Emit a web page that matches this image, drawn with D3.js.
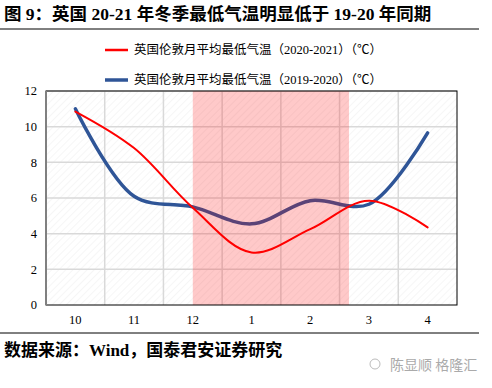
<!DOCTYPE html>
<html>
<head>
<meta charset="utf-8">
<script src="https://cdn.jsdelivr.net/npm/d3@7"></script>
<style>
  body { margin: 0; background: #fff; }
  svg { display: block; }
</style>
</head>
<body>
<svg id="chart"></svg>
<script>
// months on the x axis
const months = ["10", "11", "12", "1", "2", "3", "4"];
// London monthly average min temperature (C)
const temp2021 = [10.85, 8.8, 5.45, 2.95, 4.25, 5.85, 4.35];
const temp1920 = [11.0, 6.1, 5.5, 4.55, 5.85, 5.65, 9.65];
const yTicks = [0, 2, 4, 6, 8, 10, 12];
const seriesNames = ["英国伦敦月平均最低气温（2020-2021）（℃）", "英国伦敦月平均最低气温（2019-2020）（℃）"];
const shadeFrom = "12", shadeTo = "2";

const W = 492, H = 388;
const margin = { top: 91, left: 46, right: 35, bottom: 83 };
const width = W - margin.left - margin.right;
const height = H - margin.top - margin.bottom;

const svg = d3.select("#chart").attr("width", W).attr("height", H);

const defs = svg.append("defs");
const pat = defs.append("pattern")
    .attr("id", "hatch")
    .attr("patternUnits", "userSpaceOnUse")
    .attr("width", 5).attr("height", 5)
    .attr("patternTransform", "rotate(45)");
pat.append("line")
    .attr("x1", 0).attr("y1", 0).attr("x2", 0).attr("y2", 5)
    .attr("stroke", "#f0f0f0").attr("stroke-width", 1.2);

// title
svg.append("text")
    .attr("x", 4).attr("y", 20)
    .style("font-family", "'Liberation Serif', 'Noto Sans CJK SC', serif")
    .style("font-size", "17.5px")
    .style("font-weight", "bold")
    .text("图 9：英国 20-21 年冬季最低气温明显低于 19-20 年同期");

svg.append("line").attr("x1", 0).attr("x2", 479).attr("y1", 29).attr("y2", 29)
    .attr("stroke", "#000").attr("stroke-width", 1);
svg.append("line").attr("x1", 0).attr("x2", 479).attr("y1", 333).attr("y2", 333)
    .attr("stroke", "#000").attr("stroke-width", 1);

svg.append("text")
    .attr("x", 4).attr("y", 356)
    .style("font-family", "'Liberation Serif', 'Noto Sans CJK SC', serif")
    .style("font-size", "17px")
    .style("font-weight", "bold")
    .text("数据来源：Wind，国泰君安证券研究");

// watermark
svg.append("circle").attr("cx", 375).attr("cy", 364).attr("r", 5)
    .attr("fill", "none").attr("stroke", "#bbb").attr("stroke-width", 1);
svg.append("text")
    .attr("x", 390).attr("y", 370)
    .style("font-family", "'Noto Sans CJK SC', sans-serif")
    .style("font-size", "14px")
    .attr("fill", "#aaa")
    .text("陈显顺 格隆汇");

const g = svg.append("g").attr("transform", `translate(${margin.left},${margin.top})`);

const x = d3.scaleBand().domain(months).range([0, width]);
const y = d3.scaleLinear().domain([0, 12]).range([height, 0]);
const cx = d => x(d) + x.bandwidth() / 2;

g.append("rect").attr("width", width).attr("height", height).attr("fill", "url(#hatch)");

// grid
g.selectAll(".hgrid").data(yTicks.slice(1)).join("line")
    .attr("x1", 0).attr("x2", width)
    .attr("y1", d => y(d)).attr("y2", d => y(d))
    .attr("stroke", "#d9d9d9").attr("stroke-width", 1.5);
g.selectAll(".vgrid").data(months.slice(1)).join("line")
    .attr("x1", d => x(d)).attr("x2", d => x(d))
    .attr("y1", 0).attr("y2", height)
    .attr("stroke", "#d9d9d9").attr("stroke-width", 1.5);

const line = d3.line()
    .x((d, i) => cx(months[i]))
    .y(d => y(d))
    .curve(d3.curveCatmullRom.alpha(0.5));

g.append("path").datum(temp1920)
    .attr("d", line).attr("fill", "none")
    .attr("stroke", "#2f5597").attr("stroke-width", 3.5)
    .attr("stroke-linecap", "round");
g.append("path").datum(temp2021)
    .attr("d", line).attr("fill", "none")
    .attr("stroke", "#ff0000").attr("stroke-width", 2)
    .attr("stroke-linecap", "round");

// shaded winter window drawn on top
const x0 = cx(shadeFrom);
const x1 = cx(shadeTo) + x.bandwidth() * 0.66;
g.append("rect")
    .attr("x", x0).attr("y", 0)
    .attr("width", x1 - x0).attr("height", height)
    .attr("fill", "#ff0000").attr("fill-opacity", 0.21);

// border
g.append("rect").attr("width", width).attr("height", height)
    .attr("fill", "none").attr("stroke", "#000").attr("stroke-width", 1);
g.append("line").attr("x1", 0).attr("x2", 0).attr("y1", 0).attr("y2", height)
    .attr("stroke", "#808080").attr("stroke-width", 2);

// axes labels
g.selectAll(".ylab").data(yTicks).join("text")
    .attr("x", -9).attr("y", d => y(d)).attr("dy", "0.35em")
    .attr("text-anchor", "end")
    .style("font-family", "'Liberation Serif', serif")
    .style("font-size", "12.5px")
    .text(d => d);
g.selectAll(".xlab").data(months).join("text")
    .attr("x", d => cx(d)).attr("y", height + 19)
    .attr("text-anchor", "middle")
    .style("font-family", "'Liberation Serif', serif")
    .style("font-size", "12.5px")
    .text(d => d);

// legend
const legend = svg.append("g");
const colors = ["#ff0000", "#2f5597"], widths = [2.5, 3.5];
seriesNames.forEach((name, i) => {
    const ly = 50 + i * 30;
    legend.append("line").attr("x1", 105).attr("x2", 128).attr("y1", ly).attr("y2", ly)
        .attr("stroke", colors[i]).attr("stroke-width", widths[i]);
    legend.append("text").attr("x", 134).attr("y", ly).attr("dy", "0.35em")
        .style("font-family", "'Liberation Serif', 'Noto Sans CJK SC', serif")
        .style("font-size", "12.5px")
        .text(name);
});
</script>
</body>
</html>
